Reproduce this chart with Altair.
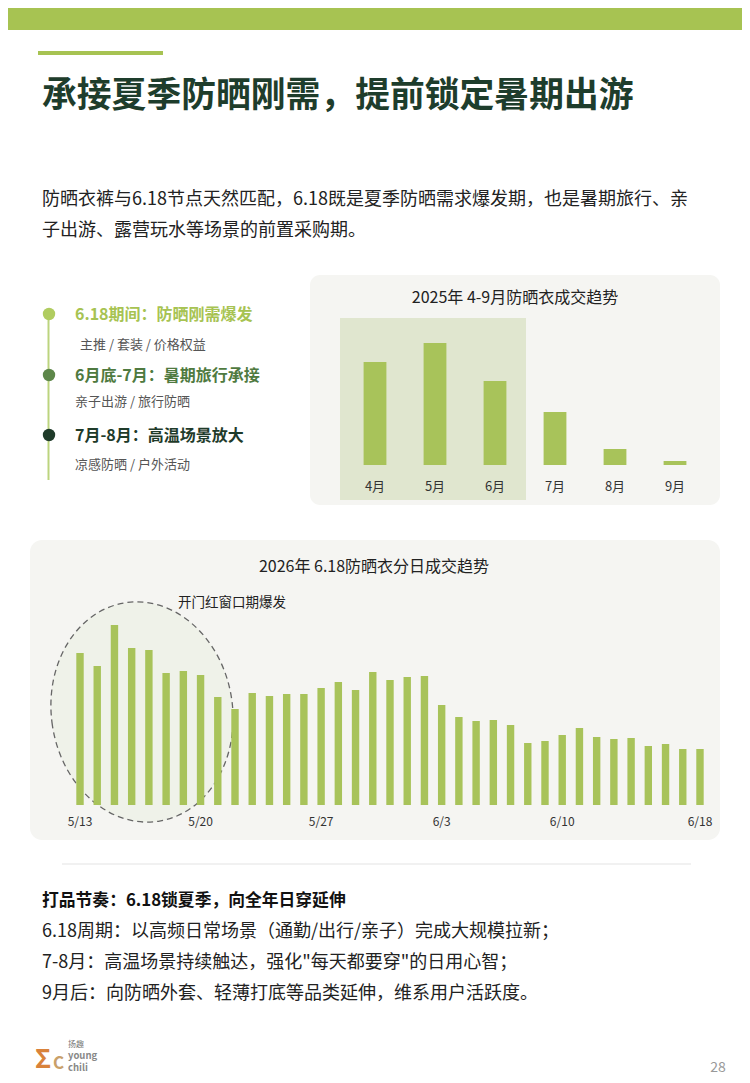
import altair as alt
import pandas as pd

# ---------------- data ----------------
months = ["4月", "5月", "6月", "7月", "8月", "9月"]
month_values = [103, 122, 84, 53, 16, 4]

days = [f"5/{d}" for d in range(13, 32)] + [f"6/{d}" for d in range(1, 19)]
day_values = [152, 139, 180, 157, 155, 132, 134, 130, 108, 96,
              112, 109, 111, 111, 117, 123, 115, 133, 125, 128,
              129, 100, 88, 84, 85, 80, 62, 64, 70, 77,
              68, 66, 67, 59, 61, 56, 56]
day_ticks = ["5/13", "5/20", "5/27", "6/3", "6/10", "6/18"]

title = "承接夏季防晒刚需，提前锁定暑期出游"
intro = ["防晒衣裤与6.18节点天然匹配，6.18既是夏季防晒需求爆发期，也是暑期旅行、亲",
         "子出游、露营玩水等场景的前置采购期。"]
stages = ["6.18期间：防晒刚需爆发", "6月底-7月：暑期旅行承接", "7月-8月：高温场景放大"]
stage_notes = ["主推 / 套装 / 价格权益", "亲子出游 / 旅行防晒", "凉感防晒 / 户外活动"]
chart1_title = "2025年 4-9月防晒衣成交趋势"
chart2_title = "2026年 6.18防晒衣分日成交趋势"
annotation = "开门红窗口期爆发"
summary_head = "打品节奏：6.18锁夏季，向全年日穿延伸"
summary = ["6.18周期：以高频日常场景（通勤/出行/亲子）完成大规模拉新；",
           "7-8月：高温场景持续触达，强化\"每天都要穿\"的日用心智；",
           "9月后：向防晒外套、轻薄打底等品类延伸，维系用户活跃度。"]

FONT = "Noto Sans CJK SC"
GREEN = "#a7c352"
BAR = "#a8c35a"
M = 8  # page margin


def P(v):
    return v - M


one = alt.Data(values=[{"a": 1}])


def rect(x1, y1, x2, y2, color, radius=0, opacity=1.0):
    return alt.Chart(one).mark_rect(color=color, cornerRadius=radius, opacity=opacity).encode(
        x=alt.value(P(x1)), x2=alt.value(P(x2)), y=alt.value(P(y1)), y2=alt.value(P(y2)))


def txt(s, x, y, size, color="#222", weight="normal", align="left"):
    return alt.Chart(one).mark_text(
        text=s, font=FONT, fontSize=size, color=color, fontWeight=weight,
        align=align, baseline="middle").encode(x=alt.value(P(x)), y=alt.value(P(y)))


def dot(x, y, r, color):
    return alt.Chart(one).mark_circle(color=color, opacity=1, size=3.1416 * r * r).encode(
        x=alt.value(P(x)), y=alt.value(P(y)))


layers = []

# header decorations
layers.append(rect(0, 0, 760, 30, GREEN))
layers.append(rect(38, 51, 163, 55, GREEN))
layers.append(txt(title, 42, 97, 34.8, "#1e3d2c", "bold"))
layers.append(txt(intro[0], 42, 200, 18, "#222"))
layers.append(txt(intro[1], 42, 231, 18, "#222"))

# timeline
layers.append(rect(47.5, 310, 49.5, 480, "#bcd47e"))
dot_colors = ["#b0cc60", "#5d874a", "#1f3b2a"]
stage_colors = ["#a7c352", "#4f7a40", "#1f3b2a"]
stage_y = [315, 376, 436]
note_y = [345, 402, 465]
note_x = [80, 75, 75]
for i in range(3):
    layers.append(dot(49, stage_y[i] - 1, 7, dot_colors[i]))
    layers.append(txt(stages[i], 75, stage_y[i], 16, stage_colors[i], "bold"))
    layers.append(txt(stage_notes[i], note_x[i], note_y[i], 13, "#555"))

# top chart panel
layers.append(rect(310, 275, 720, 505, "#f5f5f2", 10))
layers.append(rect(340, 318, 526, 500, "#e0e6cf"))
layers.append(txt(chart1_title, 515, 298, 16, "#222", align="center"))

df_m = pd.DataFrame({"month": months, "value": month_values})
xs1 = alt.Scale(domain=months, range=[P(345), P(705)], paddingInner=0.62, paddingOuter=0.31)
ys1 = alt.Scale(domain=[0, 100], range=[P(465), P(365)])
layers.append(alt.Chart(df_m).mark_bar(color=BAR).encode(
    x=alt.X("month:N", scale=xs1, axis=None, sort=months),
    y=alt.Y("value:Q", scale=ys1, axis=None)))
layers.append(alt.Chart(df_m).mark_text(font=FONT, fontSize=13, color="#333", baseline="middle").encode(
    x=alt.X("month:N", scale=xs1, axis=None, sort=months),
    y=alt.value(P(487)), text="month:N"))

# bottom chart panel
layers.append(rect(30, 540, 720, 840, "#f5f5f2", 12))
layers.append(txt(chart2_title, 374, 567, 16, "#222", align="center"))

ell = "M -0.82 0 A 0.82 1 0 1 1 0.82 0 A 0.82 1 0 1 1 -0.82 0 Z"
layers.append(alt.Chart(one).mark_point(
    shape=ell, size=221 * 221, filled=True, fill="#eef1e8", fillOpacity=0.95,
    stroke="#666", strokeWidth=1.3, strokeDash=[6, 4], strokeOpacity=1, opacity=1,
    angle=351.5).encode(x=alt.value(P(142)), y=alt.value(P(712))))
layers.append(txt(annotation, 178, 603, 13.5, "#222"))

df_d = pd.DataFrame({"day": days, "value": day_values})
xs2 = alt.Scale(domain=days, range=[P(71.4), P(708.6)], paddingInner=0.57, paddingOuter=0.285)
ys2 = alt.Scale(domain=[0, 100], range=[P(805), P(705)])
layers.append(alt.Chart(df_d).mark_bar(color=BAR).encode(
    x=alt.X("day:N", scale=xs2, axis=None, sort=days),
    y=alt.Y("value:Q", scale=ys2, axis=None)))
df_t = pd.DataFrame({"day": day_ticks})
layers.append(alt.Chart(df_t).mark_text(font=FONT, fontSize=12, color="#333", baseline="middle").encode(
    x=alt.X("day:N", scale=xs2, axis=None, sort=days),
    y=alt.value(P(822)), text="day:N"))

# separator + summary
layers.append(rect(62, 863.5, 691, 864.5, "#e4e4e4"))
layers.append(txt(summary_head, 42, 901, 16.8, "#111", "bold"))
for i, s in enumerate(summary):
    layers.append(txt(s, 42, 932 + 31 * i, 18, "#222"))

# logo & page number
layers.append(txt("Σ", 35, 1060, 26, "#d9823b", "bold"))
layers.append(txt("C", 53, 1064, 17, "#c9a06a", "bold"))
layers.append(txt("扬趣", 68, 1045, 8, "#777"))
layers.append(txt("young", 68, 1056, 9.5, "#888", "bold"))
layers.append(txt("chili", 68, 1068, 9.5, "#888", "bold"))
layers.append(txt("28", 718, 1068, 14, "#999", align="center"))

chart = alt.layer(*layers).resolve_scale(x="independent", y="independent").properties(
    width=734, height=1067, padding=0, autosize="none", background="white"
).configure_view(stroke=None)

chart.save("out.html", embed_options={"renderer": "svg", "actions": False})
